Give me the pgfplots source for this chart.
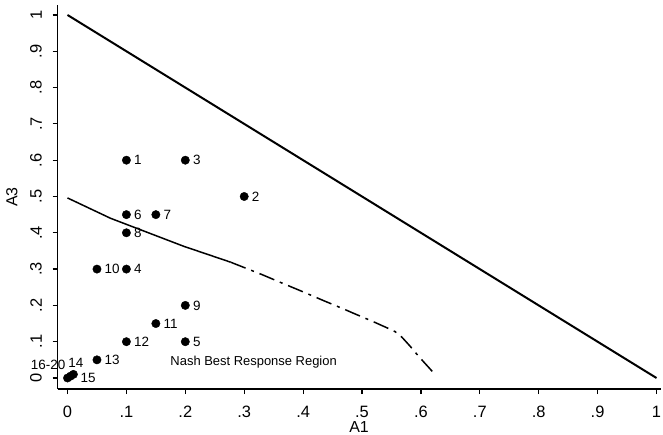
\documentclass[border=0pt]{standalone}
\usepackage{pgfplots}
\pgfplotsset{compat=1.18}
\usepackage{fontspec}
\setmainfont{Liberation Sans}
\pgfplotstableread{
x y label
0.1 0.6 1
0.3 0.5 2
0.2 0.6 3
0.1 0.3 4
0.2 0.1 5
0.1 0.45 6
0.15 0.45 7
0.1 0.4 8
0.2 0.2 9
0.05 0.3 10
0.15 0.15 11
0.1 0.1 12
0.05 0.05 13
}\pts
\begin{document}
\begin{tikzpicture}
\useasboundingbox (0,0) rectangle (663bp,435bp);
\begin{axis}[
  at={(57.5bp,46bp)}, anchor=south west,
  scale only axis, width=603bp, height=384bp,
  xmin=-0.017, xmax=1.0068, ymin=-0.0303, ymax=1.0275,
  clip=false,
  axis x line*=bottom, axis y line*=left,
  axis line style={line width=1.4bp, black, -},
  tick align=outside, major tick length=5bp,
  tick style={line width=1.2bp, black},
  xtick={0,0.1,0.2,0.3,0.4,0.5,0.6,0.7,0.8,0.9,1},
  ytick={0,0.1,0.2,0.3,0.4,0.5,0.6,0.7,0.8,0.9,1},
  xticklabels={0,.1,.2,.3,.4,.5,.6,.7,.8,.9,1},
  yticklabels={0,.1,.2,.3,.4,.5,.6,.7,.8,.9,1},
  ticklabel style={font=\fontsize{16.5}{16.5}\selectfont, inner sep=0pt},
  xticklabel style={anchor=north},
  yticklabel style={rotate=90, anchor=south},
  xticklabel shift=12bp, yticklabel shift=10.5bp,
  xlabel={A1}, ylabel={A3},
  label style={font=\fontsize{16}{16}\selectfont},
  xlabel style={at={(axis description cs:0.5,-0.1)}, anchor=center},
  ylabel style={at={(axis description cs:-0.0755,0.5)}, anchor=center},
]
\addplot[black, line width=2bp] coordinates {(0,1) (1,0)};
\addplot[black, line width=1.5bp] coordinates {
 (0,0.496) (0.073,0.440) (0.197,0.363) (0.277,0.319)};
\addplot[black, line width=1.5bp, dash pattern=on 16bp off 6bp on 3bp off 6bp] coordinates {
 (0.277,0.319) (0.330,0.285) (0.362,0.263) (0.396,0.240) (0.435,0.213) (0.469,0.190)
 (0.486,0.178) (0.518,0.156) (0.540,0.140) (0.556,0.128) (0.568,0.112) (0.582,0.087) (0.596,0.060) (0.620,0.017)};
\addplot[only marks, mark=*, mark size=4.2bp, black,
  nodes near coords, point meta=explicit symbolic,
  nodes near coords style={anchor=west, inner sep=0pt, xshift=7.5bp, font=\fontsize{13.5}{13.5}\selectfont}]
  table[meta=label] {\pts};
\addplot[only marks, mark=*, mark size=4.2bp, black] coordinates {(0,0) (0.005,0.005) (0.01,0.01)};
\addplot[only marks, mark=none, nodes near coords, point meta=explicit symbolic,
  nodes near coords style={anchor=center, inner sep=0pt, xshift=2.5bp, yshift=11bp, font=\fontsize{13.5}{13.5}\selectfont}]
  coordinates {(0.01,0.01) [14]};
\addplot[only marks, mark=none, nodes near coords, point meta=explicit symbolic,
  nodes near coords style={anchor=west, inner sep=0pt, xshift=10bp, yshift=-2bp, font=\fontsize{13.5}{13.5}\selectfont}]
  coordinates {(0.005,0.005) [15]};
\addplot[only marks, mark=none, nodes near coords, point meta=explicit symbolic,
  nodes near coords style={anchor=east, inner sep=0pt, xshift=-2bp, yshift=13bp, font=\fontsize{13.5}{13.5}\selectfont}]
  coordinates {(0,0) [16-20]};
\node[font=\fontsize{13}{13}\selectfont, inner sep=0pt] at (axis cs:0.316,0.044) {Nash Best Response Region};
\end{axis}
\end{tikzpicture}
\end{document}
